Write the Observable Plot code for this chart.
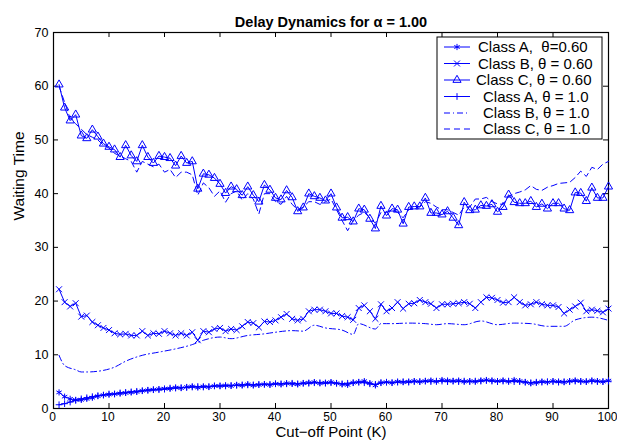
<!DOCTYPE html>
<html><head><meta charset="utf-8">
<script src="https://cdn.jsdelivr.net/npm/d3@7"></script>
<script src="https://cdn.jsdelivr.net/npm/@observablehq/plot@0.6"></script>
<style>body{margin:0;background:#fff}</style>
</head><body><div id="chart"></div>
<script>
// ---- data ----
const title = "Delay Dynamics for α = 1.00";
const xLabel = "Cut−off Point (K)";
const yLabel = "Waiting Time";
const xTicks = [0,10,20,30,40,50,60,70,80,90,100];
const yTicks = [0,10,20,30,40,50,60,70];
const seriesNames = ["Class A,  θ=0.60","Class B, θ = 0.60","Class C, θ = 0.60","Class A, θ = 1.0","Class B, θ = 1.0","Class C, θ = 1.0"];

// Cut-off points K = 1..100 for the marked series
const K = d3.range(1, 101);

const classA060 = [3.0,2.2,1.8,1.6,1.6,1.8,2.0,2.3,2.5,2.6,2.7,2.8,2.9,3.0,3.1,3.3,3.4,3.5,3.6,3.7,
  3.7,3.9,3.8,4.0,4.1,3.9,4.1,4.0,4.2,4.2,4.3,4.2,4.4,4.3,4.5,4.3,4.4,4.5,4.4,4.6,
  4.5,4.7,4.6,4.5,4.7,4.8,4.9,4.7,4.8,4.9,4.7,4.5,4.4,4.8,4.9,5.1,4.7,4.3,4.8,4.9,
  4.8,5.0,4.9,5.0,5.1,5.0,5.1,5.2,5.0,5.3,5.2,5.1,5.2,5.0,5.1,5.0,5.2,5.3,5.2,5.1,
  5.2,5.0,5.3,5.1,4.9,4.7,4.8,5.0,4.9,5.1,5.0,4.9,5.1,5.2,5.1,5.0,5.2,5.1,5.0,5.2];

const classB060 = [22.2,19.8,19.0,19.6,17.1,17.3,16.1,15.5,15.0,14.6,14.0,13.8,13.9,13.6,13.6,14.4,13.6,14.0,13.9,14.4,
  14.0,13.6,14.0,13.6,14.2,12.7,14.4,14.2,14.8,15.0,14.4,14.8,14.6,15.3,16.1,15.9,15.1,16.2,16.1,16.4,
  17.0,17.6,16.7,16.4,16.7,18.1,18.4,18.4,18.1,17.7,17.7,17.2,17.0,16.5,18.7,19.2,18.1,16.7,19.4,18.1,
  18.7,19.8,18.6,19.5,19.6,20.2,19.8,19.5,18.7,19.4,19.4,19.5,19.6,19.8,19.5,18.7,19.8,20.7,20.6,20.2,
  19.7,19.8,20.7,19.8,19.2,19.4,19.8,19.4,19.2,19.2,18.9,17.7,18.4,19.0,19.7,18.1,18.4,18.2,17.9,18.6];

const classC060 = [60.3,56.0,53.6,54.7,50.8,50.3,51.9,50.6,49.3,48.7,48.2,46.8,49.0,47.1,46.0,49.0,46.8,45.7,47.0,46.8,
  46.6,45.2,47.0,45.7,46.0,40.9,43.7,43.5,42.9,41.8,40.1,41.3,40.8,39.7,41.3,39.7,38.5,41.6,40.7,39.2,
  38.9,40.6,39.3,36.7,37.4,40.0,39.5,39.2,38.7,40.0,37.4,35.5,35.6,34.8,37.2,37.0,35.3,33.5,37.7,35.9,
  37.2,37.0,34.4,37.5,37.6,37.6,39.2,36.4,36.4,36.1,36.7,35.5,34.1,38.4,36.9,37.0,37.8,37.7,38.0,36.6,
  37.5,39.8,38.4,38.2,38.2,38.6,37.5,38.1,37.2,38.2,38.2,37.2,36.9,40.2,40.1,38.6,41.1,39.2,39.2,41.3];

const classA100 = [0.7,0.9,1.2,1.5,1.8,2.0,2.2,2.4,2.5,2.7,2.7,2.9,3.0,3.1,3.2,3.3,3.4,3.5,3.5,3.6,
  3.8,3.8,3.9,3.9,4.0,4.1,4.0,4.1,4.2,4.2,4.2,4.3,4.3,4.4,4.4,4.4,4.5,4.5,4.5,4.6,
  4.6,4.6,4.7,4.6,4.7,4.7,4.8,4.8,4.7,4.8,4.7,4.6,4.7,4.8,4.9,4.8,4.6,4.5,4.8,4.9,
  4.8,4.9,5.0,4.9,5.0,5.0,5.1,5.0,5.1,5.1,5.0,5.1,5.0,5.1,5.0,5.1,5.1,5.2,5.1,5.0,
  5.1,5.1,5.0,5.0,4.9,4.8,4.9,4.9,5.0,5.0,4.9,5.0,5.0,5.1,5.0,5.0,5.1,5.0,5.0,5.1];

// Class B, θ = 1.0 (dash-dot, no markers): points
const classB100K = [1,2,4,5,6,9,11,13,16,19,22,25,27,30,32,35,38,40,43,45,47,49,52,54,55,58,59,61,64,67,69,71,74,77,80,83,86,89,92,94,97,100];
const classB100V = [9.9,8.0,7.2,6.8,6.8,7.1,7.7,8.8,9.9,10.5,11.1,11.9,12.7,13.3,13.0,13.6,13.9,14.2,14.5,14.4,15.5,15.0,14.6,13.8,15.8,14.8,15.8,15.8,15.9,15.8,15.6,15.8,15.6,16.3,15.6,15.9,15.8,15.3,15.3,16.5,17.0,16.4];

// Class C, θ = 1.0 (dashed)
const classC100 = [60.0,57.0,54.0,53.0,52.0,51.0,50.5,50.0,49.0,48.5,47.5,47.0,46.5,46.0,44.0,46.0,45.5,45.0,45.5,44.0,
  44.5,43.0,44.0,44.0,43.5,39.7,42.0,41.1,39.5,40.5,38.4,40.0,40.5,38.8,40.0,39.0,36.2,40.0,40.0,38.5,
  38.0,39.5,38.0,37.0,37.5,38.5,38.5,38.0,38.5,39.0,37.0,35.0,33.1,35.0,36.0,36.5,35.5,34.5,36.5,36.5,
  37.0,36.5,35.5,37.0,37.5,37.5,38.5,38.2,37.5,37.0,37.0,36.5,36.0,37.5,37.5,39.0,39.0,39.3,38.5,38.1,
  38.0,39.5,40.0,40.3,40.7,41.5,40.8,40.6,41.2,41.5,41.9,42.0,42.1,43.0,44.2,43.2,44.9,44.5,45.5,46.0];

// ---- tables ----
const tA060 = K.map((k,i)=>({k, v: classA060[i]}));
const tB060 = K.map((k,i)=>({k, v: classB060[i]}));
const tC060 = K.map((k,i)=>({k, v: classC060[i]}));
const tA100 = K.map((k,i)=>({k, v: classA100[i]}));
const tB100 = classB100K.map((k,i)=>({k, v: classB100V[i]}));
const tC100 = K.map((k,i)=>({k, v: classC100[i]}));

// ---- styles ----
const W = 617, H = 441, mL = 53, mR = 9, mT = 32, mB = 33;
const fw = W - mL - mR, fh = H - mT - mB;
const font = "'Liberation Sans', Arial, Helvetica, sans-serif";
const blue = "#0000ff";
const sym = {
  a060: {symbol: "asterisk", r: 2.9},
  b060: {symbol: "times", r: 2.8},
  c060: {symbol: "triangle2", r: 3.9},
  a100: {symbol: "plus", r: 2.3}
};
const dashC = "6,4";
const dashB = "6,3,1,3";

const chart = Plot.plot({
  width: W, height: H,
  marginLeft: mL, marginRight: mR, marginTop: mT, marginBottom: mB,
  style: {fontFamily: font, fontSize: "13px", background: "white", color: "black", overflow: "visible"},
  x: {domain: [0, 100]},
  y: {domain: [0, 70]},
  marks: [
    Plot.frame({stroke: "black", strokeWidth: 1.2}),
    Plot.tickX(xTicks, {x: d => d, insetTop: fh - 5, stroke: "black"}),
    Plot.tickX(xTicks, {x: d => d, insetBottom: fh - 5, stroke: "black"}),
    Plot.tickY(yTicks, {y: d => d, insetRight: fw - 5, stroke: "black"}),
    Plot.tickY(yTicks, {y: d => d, insetLeft: fw - 5, stroke: "black"}),
    Plot.axisX(xTicks, {tickSize: 0, tickPadding: 4, fontSize: 12, dx: -1, label: null}),
    Plot.axisY(yTicks, {tickSize: 0, tickPadding: 5, fontSize: 12.5, label: null}),
    // series
    Plot.line(tA060, {x: "k", y: "v", stroke: blue, strokeWidth: 1}),
    Plot.dot(tA060, {x: "k", y: "v", ...sym.a060, stroke: blue, fill: "none", strokeWidth: 1}),
    Plot.line(tB060, {x: "k", y: "v", stroke: blue, strokeWidth: 1}),
    Plot.dot(tB060, {x: "k", y: "v", ...sym.b060, stroke: blue, fill: "none", strokeWidth: 1}),
    Plot.line(tC060, {x: "k", y: "v", stroke: blue, strokeWidth: 1}),
    Plot.dot(tC060, {x: "k", y: "v", ...sym.c060, stroke: blue, fill: "none", strokeWidth: 1}),
    Plot.line(tA100, {x: "k", y: "v", stroke: blue, strokeWidth: 1}),
    Plot.dot(tA100, {x: "k", y: "v", ...sym.a100, stroke: blue, fill: "none", strokeWidth: 1}),
    Plot.line(tB100, {x: "k", y: "v", stroke: blue, strokeWidth: 1, strokeDasharray: dashB, curve: "monotone-x"}),
    Plot.line(tC100, {x: "k", y: "v", stroke: blue, strokeWidth: 1, strokeDasharray: dashC}),
    // texts
    Plot.text([title], {frameAnchor: "top", dy: -16, fontSize: 14.5, fontWeight: "bold"}),
    Plot.text([xLabel], {frameAnchor: "bottom", dy: 24, lineAnchor: "middle", fontSize: 15}),
    Plot.text([yLabel], {frameAnchor: "left", dx: -34, rotate: -90, fontSize: 15.5})
  ]
});
document.getElementById("chart").append(chart);

// ---- legend ----
const svg = d3.select(chart);
const lg = svg.append("g").attr("font-family", font).attr("font-size", 15).attr("text-anchor", "start");
const bx = 437, by = 37, bw = 165, bh = 102;
lg.append("rect").attr("x", bx).attr("y", by).attr("width", bw).attr("height", bh)
  .attr("fill", "white").attr("stroke", "black").attr("stroke-width", 1);
const rowY = [47, 63.5, 80, 96.5, 113, 129];
const markers = [sym.a060, sym.b060, sym.c060, sym.a100, null, null];
const dashes = [null, null, null, null, dashB, dashC];
const textX = [478, 478, 476, 483, 483, 483];
const symMap = {asterisk: d3.symbolAsterisk, times: d3.symbolTimes, triangle2: d3.symbolTriangle2, plus: d3.symbolPlus};
seriesNames.forEach((name, i) => {
  const y = rowY[i];
  lg.append("line").attr("x1", 444).attr("x2", 470).attr("y1", y).attr("y2", y)
    .attr("stroke", blue).attr("stroke-width", 1).attr("stroke-dasharray", dashes[i]);
  if (markers[i]) {
    lg.append("path").attr("transform", `translate(457,${y})`)
      .attr("d", d3.symbol(symMap[markers[i].symbol], Math.PI * markers[i].r * markers[i].r)())
      .attr("fill", "none").attr("stroke", blue);
  }
  lg.append("text").attr("x", textX[i]).attr("y", y).attr("dy", "0.35em")
    .attr("text-anchor", "start").style("white-space", "pre").text(name);
});
</script>
</body></html>
